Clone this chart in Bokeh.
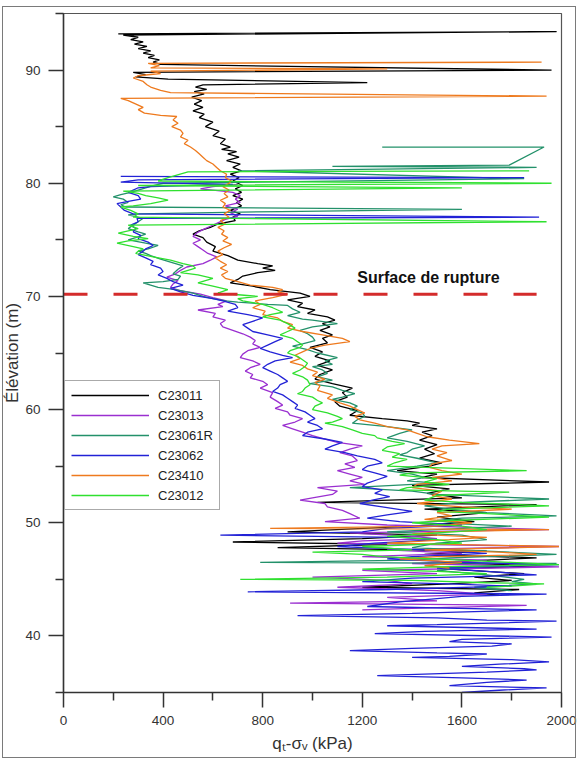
from bokeh.plotting import figure
from bokeh.models import FixedTicker, Legend, LegendItem, Label, InlineStyleSheet
from bokeh.embed import file_html
from bokeh.resources import INLINE

# ---------------- data: (elevation m, qt - sigma_v kPa) ----------------
SERIES_NAMES = ["C23011", "C23013", "C23061R", "C23062", "C23410", "C23012"]
SERIES_COLORS = ["#000000", "#9a2fd0", "#23916a", "#2222d6", "#ee7a1e", "#2fe02f"]

c23011 = [(93.2, 220), (93.4, 1980), (93.1, 240), (92.9, 300), (92.7, 270), (92.5, 320), (92.3, 285),
          (92.1, 335), (91.9, 300), (91.7, 350), (91.5, 320), (91.3, 365), (91.1, 340), (90.9, 385),
          (90.7, 360), (90.5, 390), (90.0, 1960), (89.8, 280), (89.6, 330), (89.4, 290), (89.2, 420),
          (88.9, 1220), (88.7, 560), (88.5, 530), (88.3, 575), (88.1, 525), (87.9, 565), (87.6, 515),
          (87.3, 555), (87.0, 525), (86.7, 560), (86.4, 520), (86.1, 565), (85.8, 545), (85.4, 600),
          (85.0, 570), (84.6, 625), (84.2, 600), (83.9, 650), (83.5, 630), (83.2, 670), (83.0, 635),
          (82.8, 695), (82.6, 660), (82.3, 705), (82.0, 655), (81.7, 710), (81.4, 680), (81.1, 715),
          (80.8, 670), (80.5, 705), (80.2, 680), (79.8, 720), (79.5, 690), (79.2, 715), (78.9, 680),
          (78.6, 720), (78.3, 695), (78.0, 715), (77.6, 670), (77.3, 710), (77.0, 680), (76.7, 690),
          (76.4, 620), (76.1, 590), (75.8, 545), (75.5, 520), (75.2, 560), (74.8, 575), (74.4, 610),
          (74.0, 600), (73.6, 660), (73.2, 700), (72.9, 780), (72.7, 840), (72.5, 800), (72.3, 850),
          (72.1, 780), (71.8, 720), (71.5, 700), (71.2, 670), (70.9, 760), (70.6, 830), (70.3, 950),
          (70.0, 990), (69.7, 900), (69.4, 960), (69.1, 940), (68.8, 1010), (68.5, 980), (68.2, 1060),
          (67.9, 1090), (67.6, 1040), (67.3, 1070), (67.0, 1030), (66.6, 1080), (66.3, 1040),
          (65.9, 1060), (65.5, 990), (65.1, 1040), (64.7, 1010), (64.3, 1070), (63.9, 1020),
          (63.5, 1080), (63.1, 1030), (62.7, 1010), (62.3, 1080), (61.9, 1160), (61.5, 1120),
          (61.1, 1140), (60.7, 1090), (60.3, 1110), (59.9, 1180), (59.5, 1150), (59.2, 1280),
          (59.0, 1380), (58.8, 1430), (58.6, 1400), (58.3, 1500), (58.0, 1440), (57.7, 1480),
          (57.3, 1430), (56.9, 1500), (56.5, 1450), (56.1, 1490), (55.7, 1430), (55.3, 1520),
          (55.0, 1470), (54.6, 1340), (54.3, 1500), (54.0, 1440), (53.6, 1950), (53.3, 1400),
          (53.0, 1550), (52.6, 1460), (52.2, 1600), (51.8, 1020), (51.6, 1900), (51.2, 1450),
          (50.9, 1700), (50.5, 1500), (50.1, 1650), (49.7, 1400), (49.2, 900), (48.9, 1500),
          (48.6, 1200), (48.3, 680), (48.1, 1300), (47.8, 860), (47.5, 1700), (47.2, 1450),
          (46.9, 1900), (46.5, 1500), (46.2, 1900), (45.9, 1550), (45.5, 1850), (45.2, 1650),
          (44.9, 1800), (44.6, 1550), (44.3, 1200), (44.1, 1830), (43.8, 1650), (43.6, 1750)]

c23013 = [(79.9, 700), (79.7, 600), (79.5, 550), (79.3, 640), (79.2, 680), (78.9, 710), (78.6, 690),
          (78.3, 710), (78.0, 650), (77.7, 700), (77.4, 670), (77.1, 700), (76.8, 650), (76.5, 620),
          (76.2, 590), (75.9, 560), (75.6, 535), (75.3, 520), (75.0, 550), (74.7, 520), (74.4, 540),
          (74.1, 560), (73.8, 580), (73.5, 615), (73.2, 590), (72.9, 560), (72.6, 495), (72.3, 470),
          (72.0, 450), (71.7, 415), (71.4, 460), (71.1, 440), (70.8, 430), (70.5, 470), (70.2, 550),
          (69.9, 600), (69.6, 655), (69.3, 620), (69.1, 640), (68.8, 540), (68.5, 610), (68.2, 600),
          (67.9, 650), (67.6, 630), (67.3, 640), (67.0, 680), (66.7, 720), (66.4, 750), (66.1, 770),
          (65.8, 760), (65.5, 790), (65.2, 740), (64.9, 720), (64.6, 710), (64.3, 760), (64.0, 790),
          (63.7, 750), (63.4, 730), (63.1, 760), (62.8, 750), (62.5, 800), (62.2, 820), (61.9, 790),
          (61.5, 840), (61.1, 830), (60.7, 860), (60.4, 880), (60.1, 850), (59.8, 900), (59.5, 910),
          (59.2, 960), (58.9, 930), (58.6, 880), (58.3, 920), (58.0, 960), (57.7, 1000), (57.4, 1050),
          (57.1, 1100), (56.8, 1200), (56.5, 1150), (56.2, 1110), (55.9, 1160), (55.5, 1180),
          (55.2, 1130), (54.9, 1170), (54.6, 1100), (54.3, 1150), (54.0, 1200), (53.7, 1150),
          (53.4, 1210), (53.1, 1020), (52.8, 1100), (52.5, 1080), (52.2, 1000), (52.0, 950),
          (51.7, 1050), (51.4, 1060), (51.1, 1120), (50.8, 1150), (50.4, 1190), (50.1, 1050),
          (49.8, 1300), (49.4, 1950), (49.1, 1150), (48.8, 1400), (48.6, 1500), (48.4, 1200),
          (48.2, 1100), (47.9, 1990), (47.6, 1300), (47.3, 1600), (47.0, 1200), (46.7, 1700),
          (46.4, 1400), (46.1, 1990), (45.8, 1200), (45.5, 1500), (45.2, 1000), (44.9, 1300),
          (44.6, 1400), (44.3, 1100), (44.0, 1500), (43.7, 1700), (43.4, 1300), (43.1, 1500),
          (42.9, 910), (42.7, 1860), (42.5, 1500), (42.3, 1200)]

c23061r = [(83.2, 1280), (83.2, 1930), (81.6, 1790), (81.5, 1080), (81.4, 1900), (81.1, 700),
           (80.4, 1850), (80.0, 400), (79.8, 360), (79.6, 330), (79.4, 300), (79.2, 270), (79.0, 230),
           (78.8, 200), (78.6, 240), (78.3, 260), (78.1, 230), (77.9, 250), (77.7, 1600), (77.5, 870),
           (77.3, 300), (77.2, 260), (76.9, 320), (76.6, 300), (76.3, 280), (76.0, 260), (75.7, 300),
           (75.5, 330), (75.2, 290), (75.0, 260), (74.7, 330), (74.5, 380), (74.2, 340), (74.0, 300),
           (73.8, 330), (73.6, 350), (73.3, 390), (73.1, 420), (72.9, 450), (72.7, 480), (72.4, 460),
           (72.0, 440), (71.8, 470), (71.5, 460), (71.3, 400), (71.2, 320), (71.0, 350), (70.8, 380),
           (70.6, 450), (70.3, 520), (70.0, 560), (69.8, 600), (69.6, 650), (69.5, 700), (69.3, 820),
           (69.2, 900), (68.9, 920), (68.6, 950), (68.3, 900), (68.0, 960), (67.9, 1000), (67.6, 1100),
           (67.3, 1000), (67.0, 950), (66.7, 980), (66.4, 1000), (66.1, 1010), (65.8, 960), (65.6, 920),
           (65.3, 980), (65.0, 1020), (64.6, 1100), (64.3, 1050), (64.0, 1080), (63.8, 1000),
           (63.5, 1040), (63.2, 1060), (62.9, 1020), (62.6, 1080), (62.3, 990), (62.0, 1080),
           (61.7, 1120), (61.4, 1170), (61.1, 1120), (60.9, 1080), (60.6, 1150), (60.3, 1180),
           (60.0, 1150), (59.7, 1200), (59.4, 1210), (59.1, 1180), (58.8, 1160), (58.5, 1300),
           (58.2, 1400), (57.9, 1350), (57.5, 1300), (57.2, 1380), (56.8, 1450), (56.5, 1400),
           (56.2, 1380), (56.0, 1350), (55.7, 1420), (55.3, 1500), (55.0, 1420), (54.6, 1300),
           (54.3, 1400), (54.0, 1450), (53.7, 1380), (53.5, 1500), (53.1, 1150), (52.8, 1400),
           (52.5, 1500), (52.1, 1950), (51.8, 1600), (51.5, 1450), (51.2, 1550), (50.9, 1700),
           (50.6, 1980), (50.4, 1600), (50.2, 1500), (49.9, 1600), (49.7, 1800), (49.4, 1500),
           (49.2, 1300), (48.9, 1600), (48.5, 1700), (48.2, 1500), (47.8, 1400), (47.5, 1700),
           (47.2, 1980), (46.9, 1550), (46.7, 1400), (46.5, 790), (46.4, 1980), (46.1, 1650),
           (45.8, 1500), (45.4, 1700), (45.0, 1850), (44.8, 1800), (44.6, 1900), (44.3, 1650),
           (44.0, 1800)]

c23062 = [(80.6, 230), (80.5, 1850), (80.3, 300), (80.1, 230), (79.9, 680), (79.7, 350), (79.6, 300),
          (79.4, 280), (79.2, 260), (78.9, 300), (78.6, 310), (78.4, 260), (78.2, 215), (77.9, 230),
          (77.6, 245), (77.3, 280), (77.0, 1910), (76.9, 295), (76.6, 300), (76.3, 270), (76.0, 290),
          (75.7, 280), (75.4, 310), (75.1, 300), (74.8, 340), (74.5, 360), (74.2, 330), (74.0, 320),
          (73.7, 300), (73.4, 330), (73.1, 360), (72.8, 350), (72.5, 390), (72.2, 400), (71.9, 380),
          (71.6, 415), (71.3, 440), (71.0, 480), (70.7, 430), (70.4, 470), (70.1, 520), (69.8, 600),
          (69.6, 640), (69.3, 690), (69.0, 700), (68.7, 660), (68.4, 740), (68.1, 800), (67.8, 760),
          (67.5, 720), (67.2, 740), (66.9, 760), (66.6, 820), (66.3, 880), (66.0, 850), (65.7, 820),
          (65.4, 790), (65.1, 830), (64.8, 880), (64.6, 920), (64.3, 850), (64.0, 820), (63.7, 800),
          (63.4, 830), (63.1, 860), (62.8, 880), (62.5, 900), (62.2, 870), (61.9, 860), (61.6, 840),
          (61.3, 880), (61.0, 900), (60.7, 920), (60.4, 940), (60.1, 930), (59.8, 970), (59.5, 990),
          (59.2, 1010), (58.9, 980), (58.6, 1020), (58.3, 1040), (58.0, 980), (57.7, 960), (57.4, 1050),
          (57.1, 1120), (56.8, 1080), (56.5, 1050), (56.2, 1130), (55.9, 1180), (55.6, 1250),
          (55.3, 1280), (55.0, 1220), (54.7, 1200), (54.4, 1250), (54.1, 1300), (53.8, 1260),
          (53.5, 1220), (53.2, 1200), (52.9, 1280), (52.6, 1250), (52.3, 1310), (52.0, 1240),
          (51.7, 1190), (51.4, 1280), (51.0, 1400), (50.7, 1300), (50.4, 1220), (50.1, 1350),
          (49.8, 1600), (49.5, 1300), (49.2, 1200), (48.9, 630), (48.7, 1350), (48.5, 1500),
          (48.2, 1250), (47.9, 1100), (47.6, 1450), (47.3, 1700), (47.0, 1400), (46.8, 1300),
          (46.5, 1600), (46.3, 1990), (46.0, 1500), (45.7, 1700), (45.4, 1900), (45.1, 1400),
          (44.8, 1200), (44.6, 1550), (44.4, 1800), (44.1, 1300), (43.9, 740), (43.7, 1940),
          (43.5, 1600), (43.3, 1500), (43.0, 1350), (42.6, 1220), (42.3, 1900), (42.0, 1400),
          (41.8, 940), (41.6, 1500), (41.4, 1700), (41.3, 1980), (41.0, 1500), (40.9, 1300),
          (40.6, 1900), (40.4, 1450), (40.2, 1250), (39.9, 1960), (39.7, 1600), (39.5, 1550),
          (39.3, 1800), (39.1, 1720), (38.9, 1400), (38.7, 1150), (38.5, 1500), (38.4, 1700),
          (38.2, 1550), (38.1, 1400), (37.9, 1800), (37.7, 1950), (37.5, 1750), (37.3, 1600),
          (37.1, 1850), (37.0, 1900), (36.8, 1700), (36.5, 1260), (36.3, 1600), (36.1, 1860),
          (35.9, 1700), (35.6, 1550), (35.4, 1940), (35.2, 1750), (35.0, 1600)]

c23410 = [(90.7, 1920), (90.6, 340), (90.4, 385), (90.2, 350), (90.1, 1300), (89.9, 350), (89.7, 390),
          (89.5, 300), (89.3, 280), (89.0, 320), (88.7, 335), (88.5, 350), (88.2, 390), (88.0, 430),
          (87.7, 1940), (87.5, 230), (87.3, 260), (87.1, 280), (86.9, 300), (86.7, 320), (86.5, 300),
          (86.2, 325), (86.0, 390), (85.9, 455), (85.6, 440), (85.3, 460), (85.0, 435), (84.7, 470),
          (84.4, 480), (84.1, 470), (83.8, 500), (83.5, 485), (83.2, 510), (82.9, 530), (82.6, 545),
          (82.3, 560), (82.0, 575), (81.7, 600), (81.4, 615), (81.1, 630), (80.8, 655), (80.5, 650),
          (80.2, 675), (80.0, 665), (79.7, 640), (79.4, 665), (79.1, 645), (78.8, 660), (78.5, 630),
          (78.2, 650), (77.9, 640), (77.6, 670), (77.3, 645), (77.0, 665), (76.7, 630), (76.4, 650),
          (76.1, 620), (75.8, 645), (75.5, 635), (75.2, 660), (74.9, 640), (74.6, 675), (74.3, 645),
          (74.0, 620), (73.7, 640), (73.4, 610), (73.1, 630), (72.8, 655), (72.5, 630), (72.2, 660),
          (71.9, 635), (71.6, 650), (71.3, 700), (71.0, 750), (70.8, 840), (70.6, 880), (70.4, 860),
          (70.2, 900), (69.9, 840), (69.6, 770), (69.3, 790), (69.0, 760), (68.7, 810), (68.4, 800),
          (68.1, 860), (67.8, 880), (67.5, 920), (67.2, 900), (66.9, 960), (66.6, 1040), (66.3, 1120),
          (66.0, 1150), (65.7, 1050), (65.4, 990), (65.1, 960), (64.8, 930), (64.5, 950), (64.2, 910),
          (63.9, 960), (63.6, 980), (63.3, 1020), (63.0, 1000), (62.7, 1050), (62.4, 1010),
          (62.1, 1030), (61.7, 1020), (61.3, 1080), (61.0, 1060), (60.6, 1110), (60.3, 1150),
          (60.0, 1180), (59.7, 1210), (59.4, 1170), (59.1, 1190), (58.8, 1250), (58.5, 1300),
          (58.2, 1380), (57.9, 1420), (57.6, 1460), (57.3, 1550), (57.0, 1670), (56.8, 1520),
          (56.5, 1480), (56.2, 1540), (55.9, 1500), (55.5, 1560), (55.2, 1480), (54.9, 1470),
          (54.6, 1520), (54.3, 1600), (54.0, 1480), (53.7, 1560), (53.4, 1420), (53.1, 1400),
          (52.8, 1520), (52.4, 1480), (52.1, 1560), (51.7, 1420), (51.4, 1600), (51.2, 1800),
          (50.9, 1500), (50.6, 1560), (50.3, 1450), (50.0, 1640), (49.7, 1500), (49.5, 830),
          (49.4, 1950), (49.2, 1500), (49.0, 1400), (48.7, 1700), (48.5, 1550), (48.2, 1300),
          (47.9, 1990), (47.6, 1450), (47.4, 1750), (47.2, 1900), (47.0, 1500), (46.8, 1350),
          (46.5, 1600), (46.2, 1450), (46.0, 1550)]

c23012 = [(81.1, 1870), (81.0, 500), (80.5, 420), (80.2, 380), (80.0, 1960), (79.8, 300), (79.6, 1600),
          (79.3, 240), (79.1, 300), (78.9, 330), (78.7, 380), (78.5, 420), (78.2, 350), (78.0, 280),
          (77.9, 230), (77.6, 270), (77.3, 300), (77.0, 280), (76.6, 1940), (76.3, 260), (76.0, 300),
          (75.8, 260), (75.6, 220), (75.3, 280), (75.1, 340), (74.9, 260), (74.7, 215), (74.4, 280),
          (74.2, 320), (74.0, 300), (73.8, 290), (73.5, 360), (73.2, 430), (72.9, 480), (72.7, 520),
          (72.5, 530), (72.3, 500), (72.1, 470), (71.9, 540), (71.6, 600), (71.4, 570), (71.2, 540),
          (70.9, 600), (70.6, 660), (70.3, 620), (70.0, 780), (69.8, 700), (69.6, 720), (69.3, 800),
          (69.0, 840), (68.8, 860), (68.6, 880), (68.4, 830), (68.2, 800), (67.9, 870), (67.6, 900),
          (67.2, 930), (66.9, 900), (66.6, 870), (66.3, 920), (66.0, 940), (65.7, 960), (65.5, 950),
          (65.2, 910), (65.0, 900), (64.7, 940), (64.4, 960), (64.1, 980), (63.8, 970), (63.5, 950),
          (63.2, 920), (62.9, 960), (62.6, 980), (62.2, 990), (61.9, 970), (61.6, 960), (61.4, 940),
          (61.1, 1000), (60.8, 1020), (60.6, 1040), (60.3, 1010), (60.0, 1000), (59.7, 1060),
          (59.4, 1100), (59.2, 1120), (58.9, 1080), (58.8, 1050), (58.5, 1120), (58.2, 1160),
          (57.9, 1200), (57.7, 1250), (57.5, 1260), (57.2, 1320), (57.0, 1370), (56.7, 1300),
          (56.4, 1280), (56.1, 1350), (55.8, 1320), (55.6, 1380), (55.3, 1330), (55.0, 1300),
          (54.6, 1860), (54.4, 1400), (54.2, 1350), (53.9, 1500), (53.6, 1450), (53.4, 1550),
          (53.1, 1380), (52.9, 1350), (52.7, 1790), (52.4, 1500), (52.0, 1450), (51.8, 1600),
          (51.5, 1950), (51.2, 1550), (51.0, 1500), (50.8, 1700), (50.5, 1950), (50.2, 1550),
          (50.0, 1400), (49.7, 1600), (49.4, 1700), (49.1, 1500), (48.8, 1300), (48.5, 1500),
          (48.2, 1600), (47.9, 1200), (47.6, 1400), (47.4, 1000), (47.2, 1200), (47.0, 1280),
          (46.7, 1600), (46.5, 1800), (46.3, 1990), (46.1, 1500), (45.9, 1200), (45.7, 1500),
          (45.5, 1700), (45.2, 1300), (45.0, 710), (44.9, 1400), (44.7, 1700), (44.6, 1930),
          (44.4, 1800), (44.3, 1700)]

X_TICKS = [0, 400, 800, 1200, 1600, 2000]
X_MINOR = [200, 600, 1000, 1400, 1800]
Y_TICKS = [40, 50, 60, 70, 80, 90]
Y_MINOR = [35, 45, 55, 65, 75, 85, 95]

RUPTURE_ELEV = 70.2
RUPTURE_Q_END = 1900
RUPTURE_TEXT = "Surface de rupture"
RUPTURE_TEXT_Q = 1180
RUPTURE_TEXT_Z = 71.7

X_LABEL = "q\u209c-\u03c3\u1d65 (kPa)"
Y_LABEL = "\u00c9l\u00e9vation (m)"

# ---------------- figure ----------------
FONT = "Liberation Sans"
AX = "#333333"

p = figure(frame_width=498, frame_height=679, x_range=(0, 2000), y_range=(35, 95),
           output_backend="svg", toolbar_location=None,
           min_border_left=63, min_border_right=17, min_border_top=13, min_border_bottom=72,
           background_fill_color="white", border_fill_color="white")
p.xgrid.visible = False
p.ygrid.visible = False
p.outline_line_color = "#555555"
p.outline_line_width = 1.2

for ax in (p.xaxis[0], p.yaxis[0]):
    ax.axis_line_color = AX
    ax.axis_line_width = 1.5
    ax.major_tick_line_color = AX
    ax.minor_tick_line_color = AX
    ax.major_tick_line_width = 1.5
    ax.minor_tick_line_width = 1.5
    ax.major_tick_in = 0
    ax.major_tick_out = 15
    ax.minor_tick_in = 0
    ax.minor_tick_out = 8
    ax.major_label_text_font = FONT
    ax.major_label_text_font_size = "13.5px"
    ax.major_label_text_color = AX
    ax.axis_label_text_font = FONT
    ax.axis_label_text_font_size = "17px"
    ax.axis_label_text_font_style = "normal"
    ax.axis_label_text_color = AX

p.xaxis.ticker = FixedTicker(ticks=X_TICKS, minor_ticks=X_MINOR)
p.yaxis.ticker = FixedTicker(ticks=Y_TICKS, minor_ticks=Y_MINOR)
p.xaxis.axis_label = X_LABEL
p.yaxis.axis_label = Y_LABEL
p.xaxis.major_label_standoff = 8
p.yaxis.major_label_standoff = 8
p.xaxis.axis_label_standoff = 6
p.yaxis.axis_label_standoff = 0

renderers = []
for pts, color in zip([c23011, c23013, c23061r, c23062, c23410, c23012], SERIES_COLORS):
    z = [a for a, b in pts]
    q = [b for a, b in pts]
    r = p.line(q, z, line_color=color, line_width=1.3)
    renderers.append(r)

# rupture surface
p.line([0, RUPTURE_Q_END], [RUPTURE_ELEV, RUPTURE_ELEV], line_color="#d42b2b",
       line_width=3, line_dash="24 26")
p.add_layout(Label(x=RUPTURE_TEXT_Q, y=RUPTURE_TEXT_Z, text=RUPTURE_TEXT,
                   text_font=FONT, text_font_style="bold", text_font_size="16px",
                   text_color="#111111", text_baseline="middle"))

legend = Legend(items=[LegendItem(label=n, renderers=[r]) for n, r in zip(SERIES_NAMES, renderers)],
                location=(1, 182), margin=0, padding=6, spacing=4,
                glyph_width=78, glyph_height=16, label_height=16, label_standoff=9,
                label_text_font=FONT, label_text_font_size="13px", label_text_color="#222222",
                border_line_color="#555555", border_line_width=1.2,
                background_fill_color="white", background_fill_alpha=1.0)
p.add_layout(legend)

# thin grey border round the whole picture, as in the reference
p.stylesheets = [InlineStyleSheet(css=(
    ":host { outline: 2px solid #7a7a7a !important; outline-offset: -4px !important; }\n"
    ".bk-Canvas, .bk-canvas { outline: 2px solid #7a7a7a; outline-offset: -4px; }\n"
    ":host::after { content: ''; position: absolute; left: 2px; top: 6px; right: 2px; bottom: 6px;"
    " border: 1.5px solid #7a7a7a; pointer-events: none; z-index: 100; }\n"
))]

open("out.html", "w").write(file_html(p, INLINE))
